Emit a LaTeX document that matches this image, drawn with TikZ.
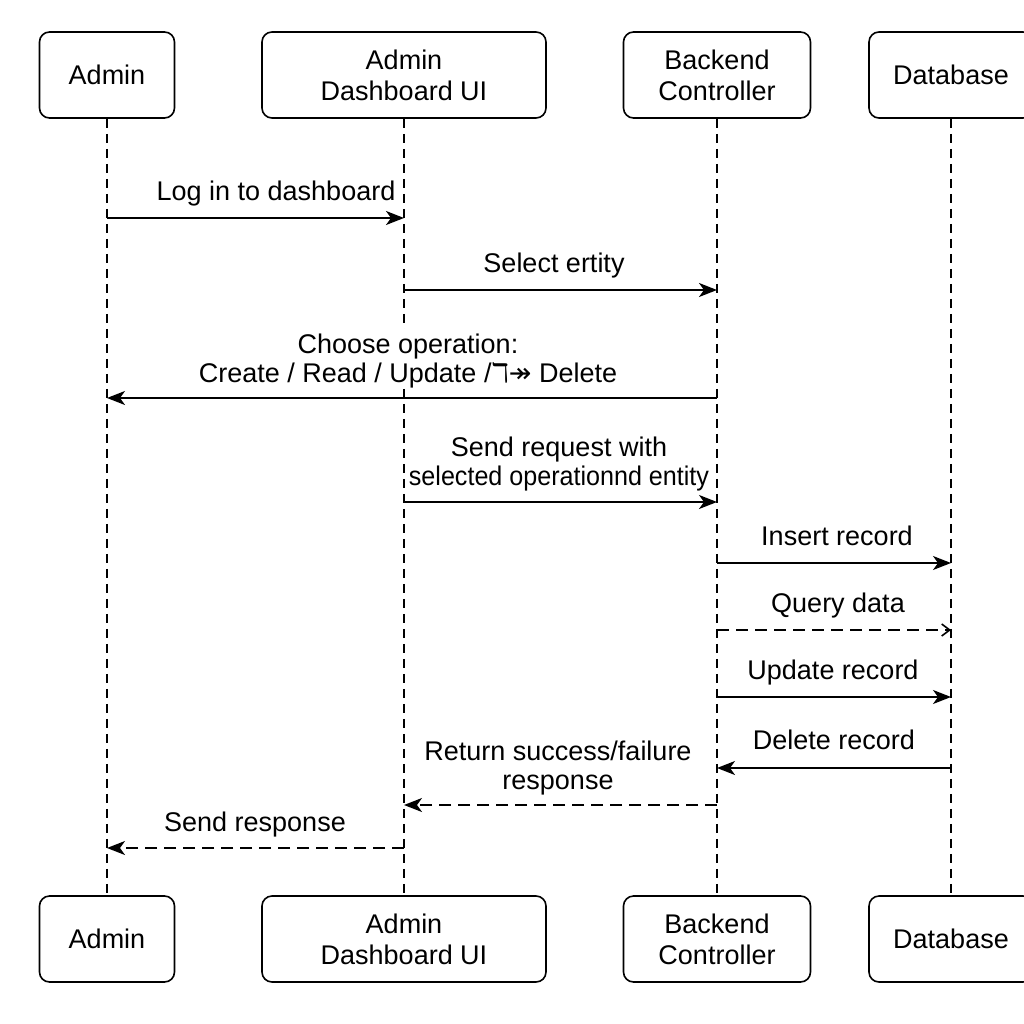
\documentclass[tikz,border=0pt]{standalone}
\usepackage{fontspec}
\setmainfont{Liberation Sans}
\newfontfamily\symfont{DejaVu Sans}
\usetikzlibrary{arrows.meta}
\begin{document}
\begin{tikzpicture}[x=1pt,y=-1pt,
  actor/.style={draw, line width=1.6pt, rounded corners=10pt, minimum height=86pt, align=center, font=\fontsize{27}{31}\selectfont, inner sep=0pt},
  life/.style={line width=1.3pt, dash pattern=on 9pt off 6pt},
  msg/.style={line width=1.6pt, -{Stealth[length=18pt,width=14pt,inset=5pt]}},
  reply/.style={msg, dash pattern=on 12pt off 7pt},
  query/.style={line width=1.6pt, dash pattern=on 12pt off 7pt, -{Straight Barb[length=8pt,width=12pt]}},
  lbl/.style={font=\fontsize{27}{29}\selectfont, align=center, inner xsep=2pt, inner ysep=5pt, anchor=south, text depth=0pt, fill=white}]
\useasboundingbox (0,0) rectangle (1024,1024);
% participants
\node[actor, minimum width=135pt] (a1) at (107,75) {Admin};
\node[actor, minimum width=284pt] (b1) at (404,75) {Admin\\Dashboard UI};
\node[actor, minimum width=187pt] (c1) at (717,75) {Backend\\Controller};
\node[actor, minimum width=164pt] (d1) at (951,75) {Database};
\node[actor, minimum width=135pt] (a2) at (107,939) {Admin};
\node[actor, minimum width=284pt] (b2) at (404,939) {Admin\\Dashboard UI};
\node[actor, minimum width=187pt] (c2) at (717,939) {Backend\\Controller};
\node[actor, minimum width=164pt] (d2) at (951,939) {Database};
% lifelines
\draw[life] (a1) -- (a2);
\draw[life] (b1) -- (b2);
\draw[life] (c1) -- (c2);
\draw[life] (d1) -- (d2);
% message end points on the lifelines
\foreach \n/\y in {1/218,2/290,3/398,4/502,5/563,6/630,7/697,8/768,9/805,10/848}{
  \coordinate (ad-\n) at (a1.center |- 0,\y);
  \coordinate (ui-\n) at (b1.center |- 0,\y);
  \coordinate (be-\n) at (c1.center |- 0,\y);
  \coordinate (db-\n) at (d1.center |- 0,\y);
}
% labels (drawn first, arrows on top)
\node[lbl] (l1) at (276,206) {Log in to dashboard};
\node[lbl] (l2) at (554,278) {Select ertity};
\node[lbl] (l3) at (408,388) {Choose operation:\\Create / Read / Update /{\symfont ℸ↠} Delete};
\node[lbl] (l4) at (559,491) {Send request with\\\scalebox{0.93}[1]{selected operationnd entity}};
\node[lbl] (l5) at (837,551) {Insert record};
\node[lbl] (l6) at (838,618) {Query data};
\node[lbl] (l7) at (833,685) {Update record};
\node[lbl] (l8) at (834,755) {Delete record};
\node[lbl] (l9) at (558,795) {Return success/failure\\response};
\node[lbl] (l10) at (255,837) {Send response};
% messages
\draw[msg] (ad-1) -- (ui-1);
\draw[msg] (ui-2) -- (be-2);
\draw[msg] (be-3) -- (ad-3);
\draw[msg] (ui-4) -- (be-4);
\draw[msg] (be-5) -- (db-5);
\draw[query] (be-6) -- (db-6);
\draw[msg] (be-7) -- (db-7);
\draw[msg] (db-8) -- (be-8);
\draw[reply] (be-9) -- (ui-9);
\draw[reply] (ui-10) -- (ad-10);
\end{tikzpicture}
\end{document}
